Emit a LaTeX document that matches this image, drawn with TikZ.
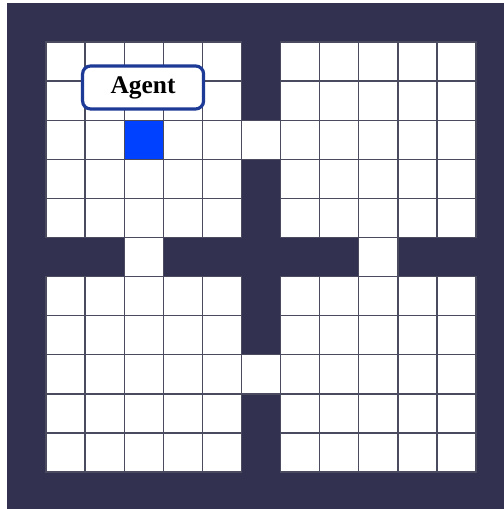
\documentclass[tikz,border=0pt]{standalone}
\usepackage{fontspec}
\setmainfont{Liberation Serif}
\usepackage{tikz}
\usetikzlibrary{positioning,calc}
\definecolor{WallNavy}{RGB}{50,50,80}
\definecolor{GridLine}{RGB}{75,75,95}
\definecolor{AgentBlue}{RGB}{0,65,255}
\definecolor{TagBlue}{RGB}{28,58,150}
\tikzset{
	wall/.style={fill=WallNavy},
	cell/.style={fill=white,draw=GridLine,line width=1.3bp},
	agentcell/.style={fill=AgentBlue,draw=GridLine,line width=1.3bp},
	tag/.style={draw=TagBlue,fill=white,line width=3.2bp,rounded corners=8bp,
		minimum width=121bp,minimum height=43bp,inner sep=0pt,
		font=\fontsize{25.5}{28}\selectfont\bfseries},
}
\begin{document}
\begin{tikzpicture}[x=39.1bp,y=-39.1bp]
			\useasboundingbox (-0.1765,-0.0742) rectangle (12.713,12.944);
			\clip (-0.1765,-0.0742) rectangle (12.713,12.944);
			% outer walls
			\path[wall] (0,0) rectangle (13,13);
			% four rooms
			\foreach \x in {1,...,5,7,8,...,11}
				\foreach \y in {1,...,5,7,8,...,11}
					\path[cell] (\x,\y) rectangle ++(1,1);
			% doorways
			\foreach \x/\y in {6/3,6/9,3/6,9/6}
				\path[cell] (\x,\y) rectangle ++(1,1);
			% agent
			\path[agentcell] (3,3) rectangle ++(1,1);
			\node[tag] (agent) at (3.483,2.163) {Agent};
		\end{tikzpicture}
\end{document}
